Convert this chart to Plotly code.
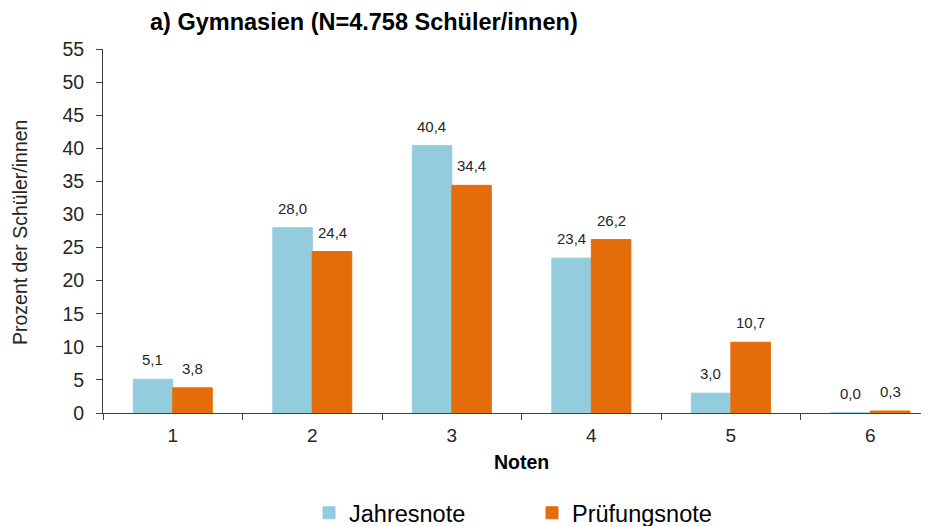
import plotly.graph_objects as go

categories = ["1", "2", "3", "4", "5", "6"]
jahresnote = [5.1, 28.0, 40.4, 23.4, 3.0, 0.04]
pruefungsnote = [3.8, 24.4, 34.4, 26.2, 10.7, 0.3]
y_ticks = list(range(0, 60, 5))

# page body has an 8px margin, so the figure is placed at (8, 8)
OFF = 8
W, H = 929 - OFF, 526 - OFF
L, R, T, B = 103 - OFF, 0, 49 - OFF, 113
pw = W - L - R
ph = H - T - B

def fmt(v):
    return f"{v:.1f}".replace(".", ",")

def px(xr):
    return (xr - 103) / pw

def py(yr):
    return (413 - yr) / ph

blue = "#93CDDD"
orange = "#E46C0A"
font = "Liberation Sans, Arial, sans-serif"

fig = go.Figure()
fig.add_trace(go.Bar(x=categories, y=jahresnote, name="Jahresnote", marker_color=blue,
                     marker_line=dict(width=1, color=blue)))
fig.add_trace(go.Bar(x=categories, y=pruefungsnote, name="Prüfungsnote", marker_color=orange,
                     marker_line=dict(width=1, color=orange)))

annotations = []
for i, c in enumerate(categories):
    annotations.append(dict(x=i, y=jahresnote[i], xref="x", yref="y", text=fmt(jahresnote[i]),
                            showarrow=False, xshift=-20, yshift=9, yanchor="bottom",
                            font=dict(size=15, color="#262626", family=font)))
    annotations.append(dict(x=i, y=pruefungsnote[i], xref="x", yref="y", text=fmt(pruefungsnote[i]),
                            showarrow=False, xshift=20, yshift=9, yanchor="bottom",
                            font=dict(size=15, color="#262626", family=font)))

annotations.append(dict(x=px(20), y=py(233), xref="paper", yref="paper",
                        text="Prozent der Schüler/innen", textangle=-90, showarrow=False,
                        xanchor="center", yanchor="middle",
                        font=dict(size=19.5, color="#262626", family=font)))
annotations.append(dict(x=px(521), y=py(462), xref="paper", yref="paper",
                        text="<b>Noten</b>", showarrow=False, xanchor="center", yanchor="middle",
                        font=dict(size=19.5, color="#000000", family=font)))
annotations.append(dict(x=px(363.5), y=py(22), xref="paper", yref="paper",
                        text="<b>a) Gymnasien (N=4.758 Schüler/innen)</b>", showarrow=False,
                        xanchor="center", yanchor="middle",
                        font=dict(size=23.5, color="#000000", family=font)))

fig.update_layout(
    width=W, height=H,
    margin=dict(l=L, r=R, t=T, b=B, autoexpand=False),
    paper_bgcolor="white", plot_bgcolor="white",
    barmode="group", bargap=0.434, bargroupgap=0,
    font=dict(family=font, size=18, color="#262626"),
    annotations=annotations,
    showlegend=True,
    legend=dict(orientation="h", x=px(309), y=py(513),
                xanchor="left", yanchor="middle", entrywidth=178, entrywidthmode="pixels",
                font=dict(size=23.5, color="#000000", family=font),
                traceorder="normal", bgcolor="rgba(0,0,0,0)"),
    xaxis=dict(type="category", range=[-0.5, 5.42], showline=True, linecolor="#404040", linewidth=1,
               ticks="outside", tickson="boundaries", ticklen=6, tickcolor="#404040",
               tickfont=dict(size=19, color="#262626"), showgrid=False, zeroline=False,
               fixedrange=True, automargin=False, ticklabelstandoff=5),
    yaxis=dict(range=[0, 55], tickvals=y_ticks, showline=True, linecolor="#404040", linewidth=1,
               ticks="outside", ticklen=6, tickcolor="#404040", showgrid=False, zeroline=False,
               tickfont=dict(size=19.5, color="#262626"), ticklabelstandoff=8, automargin=False),
)

fig.write_html("out.html")
